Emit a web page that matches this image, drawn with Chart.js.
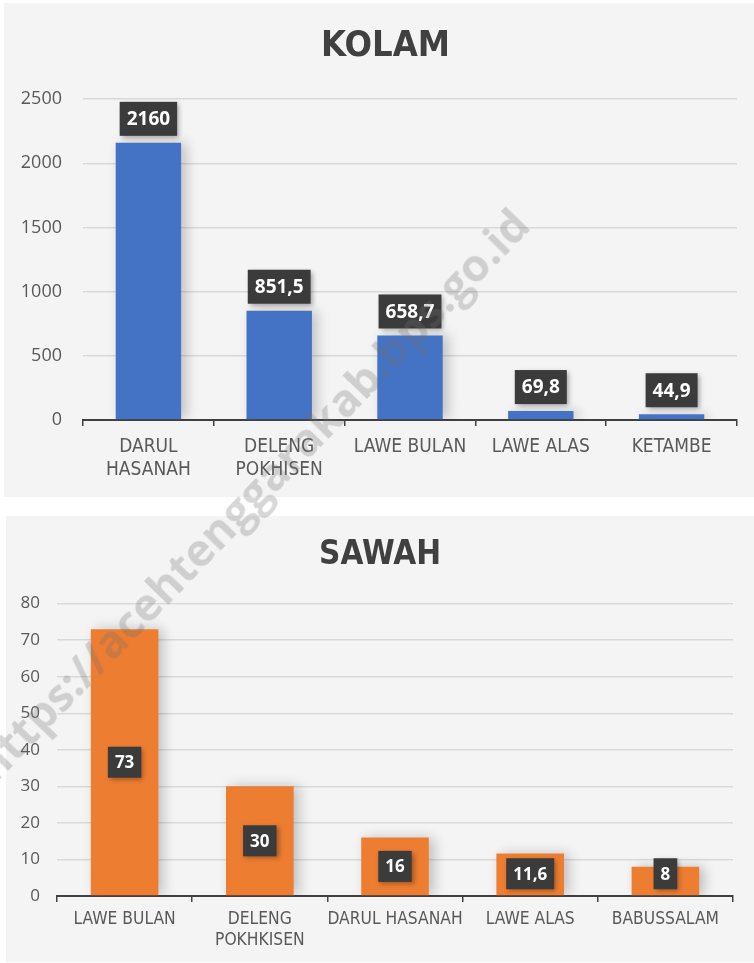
<!DOCTYPE html>
<html>
<head>
<meta charset="utf-8">
<script src="https://cdn.jsdelivr.net/npm/chart.js@4"></script>
<style>
  html, body { margin: 0; padding: 0; background: #ffffff; }
  body { width: 754px; height: 963px; position: relative; overflow: hidden; }
  .panel { position: absolute; background: #f4f4f4; }
  #kolamPanel { left: 4px; top: 3px; width: 750px; height: 494px; }
  #sawahPanel { left: 6px; top: 516px; width: 748px; height: 446px; }
  #watermark {
    position: absolute; left: 251px; top: 494px;
    transform: translate(-50%, -50%) rotate(-46deg);
    font: bold 45px "Open Sans", sans-serif;
    color: rgba(110, 110, 110, 0.28);
    white-space: nowrap; pointer-events: none;
  }
</style>
</head>
<body>
<div class="panel" id="kolamPanel"><canvas id="kolamChart"></canvas></div>
<div class="panel" id="sawahPanel"><canvas id="sawahChart"></canvas></div>
<div id="watermark">https://acehtenggarakab.bps.go.id</div>
<script>
const kolamLabels = [["DARUL", "HASANAH"], ["DELENG", "POKHISEN"], "LAWE BULAN", "LAWE ALAS", "KETAMBE"];
const kolamValues = [2160, 851.5, 658.7, 69.8, 44.9];
const kolamMax = 2500;
const kolamStep = 500;

const sawahLabels = ["LAWE BULAN", ["DELENG", "POKHKISEN"], "DARUL HASANAH", "LAWE ALAS", "BABUSSALAM"];
const sawahValues = [73, 30, 16, 11.6, 8];
const sawahMax = 80;
const sawahStep = 10;

const narrow = '"Liberation Sans Narrow", "DejaVu Sans Condensed", sans-serif';

// comma as decimal separator
function formatValue(v) {
  return String(v).replace(".", ",");
}

// soft shadow behind the bars
const barShadow = {
  id: "barShadow",
  // left padding only shifts the title; let the y labels use that room
  afterLayout(chart) {
    chart.scales.y.left = 0;
  },
  beforeDatasetsDraw(chart) {
    const ctx = chart.ctx;
    ctx.save();
    ctx.shadowColor = "rgba(0, 0, 0, 0.22)";
    ctx.shadowBlur = 12;
    ctx.shadowOffsetX = 5;
    ctx.shadowOffsetY = 0;
  },
  afterDatasetsDraw(chart) {
    chart.ctx.restore();
  },
};

// dark value boxes
const valueBoxes = {
  id: "valueBoxes",
  afterDatasetsDraw(chart, args, opts) {
    const ctx = chart.ctx;
    const meta = chart.getDatasetMeta(0);
    const values = chart.data.datasets[0].data;
    ctx.save();
    ctx.font = "bold " + opts.size + 'px "Open Sans", sans-serif';
    ctx.textAlign = "center";
    ctx.textBaseline = "middle";
    meta.data.forEach((bar, i) => {
      const text = formatValue(values[i]);
      const w = ctx.measureText(text).width + opts.padX * 2;
      const h = opts.boxH;
      let cy;
      if (opts.position === "top") {
        cy = bar.y - opts.gap - h / 2;
      } else {
        cy = Math.min((bar.y + bar.base) / 2, bar.base - opts.gap - h / 2);
      }
      ctx.shadowColor = "rgba(0, 0, 0, 0.35)";
      ctx.shadowBlur = 5;
      ctx.shadowOffsetX = 2;
      ctx.shadowOffsetY = 2;
      ctx.fillStyle = "#3b3b3b";
      ctx.fillRect(bar.x - w / 2, cy - h / 2, w, h);
      ctx.shadowColor = "transparent";
      ctx.fillStyle = "#ffffff";
      ctx.fillText(text, bar.x, cy + 1);
    });
    ctx.restore();
  },
};

function makeChart(canvasId, cfg) {
  return new Chart(document.getElementById(canvasId), {
    type: "bar",
    data: {
      labels: cfg.labels,
      datasets: [{
        data: cfg.values,
        backgroundColor: cfg.color,
        borderWidth: 0,
        barPercentage: 0.5,
        categoryPercentage: 1,
      }],
    },
    options: {
      responsive: true,
      maintainAspectRatio: false,
      animation: false,
      layout: { padding: { left: cfg.padLeft, right: cfg.padRight, top: 0, bottom: 0 } },
      plugins: {
        legend: { display: false },
        tooltip: { enabled: false },
        title: {
          display: true,
          text: cfg.title,
          color: "#404040",
          font: { family: narrow, size: cfg.titleSize, weight: "bold" },
          padding: cfg.titlePad,
        },
        valueBoxes: cfg.boxes,
      },
      scales: {
        x: {
          grid: {
            display: true,
            drawOnChartArea: false,
            drawTicks: true,
            tickLength: 6,
            color: "#404040",
            lineWidth: 1.5,
          },
          border: { display: true, color: "#404040", width: 2 },
          ticks: {
            color: "#595959",
            padding: cfg.xPad,
            maxRotation: 0,
            autoSkip: false,
            font: { family: narrow, size: cfg.xSize, lineHeight: 1.2 },
          },
          afterFit(scale) { scale.height = cfg.xHeight; },
        },
        y: {
          min: 0,
          max: cfg.max,
          grid: { color: "#d9d9d9", lineWidth: 1.5, drawTicks: false },
          border: { display: false },
          ticks: {
            stepSize: cfg.step,
            color: "#595959",
            padding: cfg.yPad,
            font: { family: '"Open Sans", sans-serif', size: cfg.ySize },
            callback: (v) => String(v),
          },
          afterFit(scale) { scale.width = cfg.yWidth; },
        },
      },
    },
    plugins: [barShadow, valueBoxes],
  });
}

makeChart("kolamChart", {
  labels: kolamLabels,
  values: kolamValues,
  max: kolamMax,
  step: kolamStep,
  color: "#4472c4",
  title: "KOLAM",
  titleSize: 36,
  titlePad: { top: 22, bottom: 31 },
  padLeft: 30,
  padRight: 17,
  xSize: 19,
  xPad: 10,
  xHeight: 77,
  ySize: 18,
  yPad: 21,
  yWidth: 49,
  boxes: { position: "top", size: 19, padX: 7, boxH: 34, gap: 7 },
});

makeChart("sawahChart", {
  labels: sawahLabels,
  values: sawahValues,
  max: sawahMax,
  step: sawahStep,
  color: "#ed7d31",
  title: "SAWAH",
  titleSize: 33,
  titlePad: { top: 20, bottom: 28 },
  padLeft: 21,
  padRight: 21,
  xSize: 17.3,
  xPad: 7,
  xHeight: 66,
  ySize: 17,
  yPad: 17,
  yWidth: 30,
  boxes: { position: "center", size: 17, padX: 7, boxH: 31, gap: 6 },
});
</script>
</body>
</html>
